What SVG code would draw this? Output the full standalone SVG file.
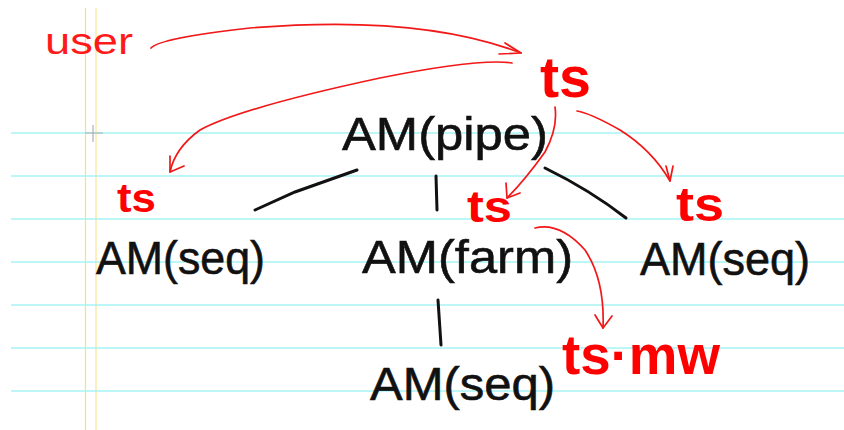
<svg xmlns="http://www.w3.org/2000/svg" width="844" height="430" viewBox="0 0 844 430">
<defs>
<style>
.rule{stroke:#a6f3f3;stroke-width:1.6;fill:none}
.node{font-family:"Liberation Sans","DejaVu Sans",sans-serif;font-size:46px;fill:#111;stroke:#111;stroke-width:0.6}
.ts{font-family:"Liberation Sans","DejaVu Sans",sans-serif;font-weight:bold;fill:#ff0000}
.red{stroke:#f21818;stroke-width:1.7;fill:none;stroke-linecap:round;stroke-linejoin:round}
.blk{stroke:#111;stroke-width:3;fill:none;stroke-linecap:round}
</style>
</defs>
<rect width="844" height="430" fill="#ffffff"/>
<g id="paper">
<line x1="85.5" y1="8" x2="85.5" y2="430" stroke="#f7dc8c" stroke-width="1.2"/>
<line x1="96" y1="8" x2="96" y2="430" stroke="#fcefc0" stroke-width="2"/>
<line class="rule" x1="11" y1="133" x2="844" y2="133"/>
<line class="rule" x1="11" y1="176" x2="844" y2="176"/>
<line class="rule" x1="11" y1="219" x2="844" y2="219"/>
<line class="rule" x1="11" y1="262" x2="844" y2="262"/>
<line class="rule" x1="11" y1="305" x2="844" y2="305"/>
<line class="rule" x1="11" y1="348" x2="844" y2="348"/>
<line class="rule" x1="11" y1="391" x2="844" y2="391"/>
<path d="M85 133H103M93 125V142" stroke="#b0b0b0" stroke-width="1.2"/>
</g>
<g id="connectors">
<path class="blk" d="M255 210L295 192L357 170"/>
<path class="blk" d="M436 176L437 210"/>
<path class="blk" d="M545 168Q590 190 626 218"/>
<path class="blk" d="M438 300L441 345"/>
<path class="red" d="M151 48Q160 38 250 28Q420 14 521 53"/>
<path class="red" d="M505 43L521 53L499 54"/>
<path class="red" d="M512 63Q480 58 380 78Q240 108 200 130Q175 148 170 172"/>
<path class="red" d="M170 156L170 172L184 166"/>
<path class="red" d="M555 107Q558 128 545 152Q525 180 507 198"/>
<path class="red" d="M506 183L507 198L520 193"/>
<path class="red" d="M577 111Q590 113 620 130Q652 150 670 181"/>
<path class="red" d="M666 166L670 181L673 166"/>
<path class="red" d="M535 228Q560 222 585 250Q605 280 603 328"/>
<path class="red" d="M595 315L603 328L612 316"/>
</g>
<g id="user"><text x="45" y="54" font-family="Liberation Sans, sans-serif" font-size="36" fill="#ff1a1a" textLength="88" lengthAdjust="spacingAndGlyphs">user</text></g>
<g id="ts-top"><text class="ts" x="540" y="97" font-size="58" textLength="51" lengthAdjust="spacingAndGlyphs">ts</text></g>
<g id="am-pipe"><text class="node" x="342" y="150" textLength="206" lengthAdjust="spacingAndGlyphs">AM(pipe)</text></g>
<g id="ts-left"><text class="ts" x="117" y="212" font-size="40" textLength="39" lengthAdjust="spacingAndGlyphs">ts</text></g>
<g id="am-seq-left"><text class="node" x="96" y="274" font-size="44" textLength="169" lengthAdjust="spacingAndGlyphs">AM(seq)</text></g>
<g id="ts-mid"><text class="ts" x="467" y="222" font-size="44" textLength="45" lengthAdjust="spacingAndGlyphs">ts</text></g>
<g id="am-farm"><text class="node" x="362" y="273" textLength="211" lengthAdjust="spacingAndGlyphs">AM(farm)</text></g>
<g id="ts-right"><text class="ts" x="676" y="221" font-size="48" textLength="48" lengthAdjust="spacingAndGlyphs">ts</text></g>
<g id="am-seq-right"><text class="node" x="640" y="275" font-size="44" textLength="170" lengthAdjust="spacingAndGlyphs">AM(seq)</text></g>
<g id="am-seq-bottom"><text class="node" x="370" y="400" font-size="44" textLength="185" lengthAdjust="spacingAndGlyphs">AM(seq)</text></g>
<g id="ts-mw"><text class="ts" x="562" y="374" font-size="56" textLength="158" lengthAdjust="spacingAndGlyphs">ts·mw</text></g>
</svg>
